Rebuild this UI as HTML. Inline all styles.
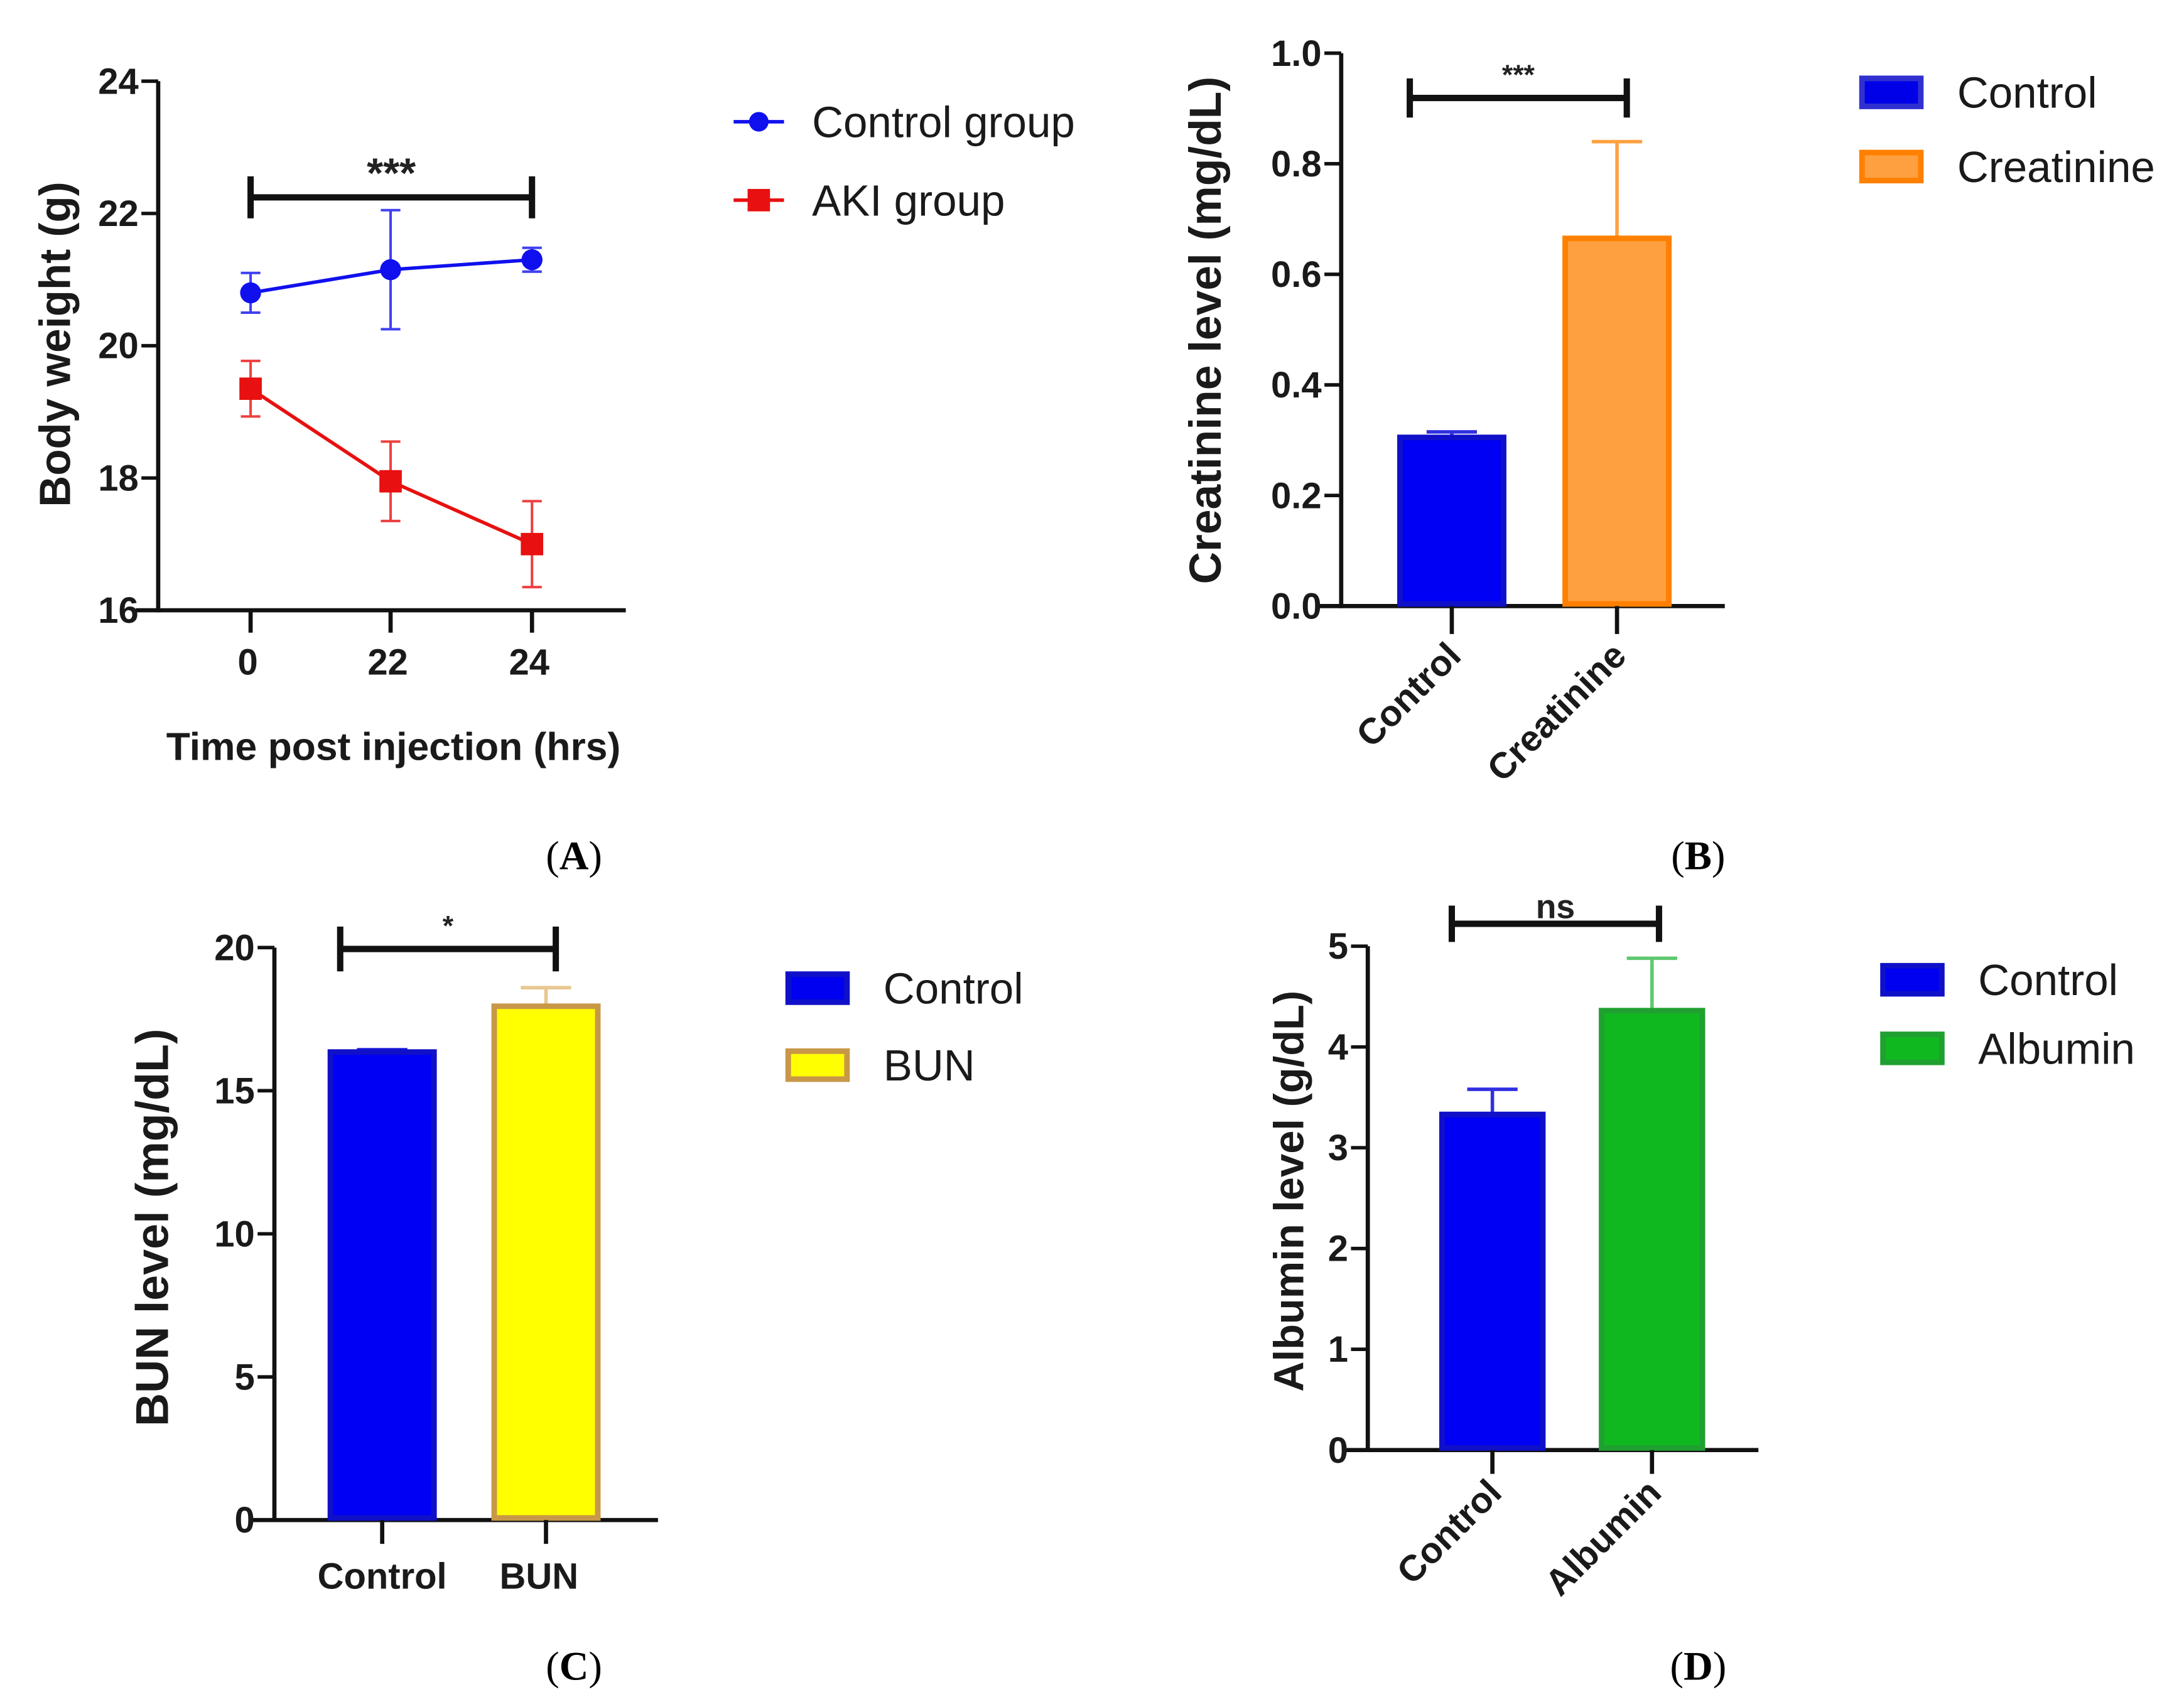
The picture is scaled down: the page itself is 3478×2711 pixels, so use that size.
<!DOCTYPE html>
<html><head><meta charset="utf-8"><style>
html,body{margin:0;padding:0;background:#fff}
svg{display:block}
text{font-family:"Liberation Sans",Arial,sans-serif}
.tk{font-size:26px;font-weight:bold;fill:#1a1a1a}
.at{font-weight:bold;fill:#1a1a1a}
.lg{font-size:31px;fill:#1a1a1a}
.pl{font-family:"Liberation Serif",serif;font-size:29px;fill:#000}
</style></head><body>
<svg id="fig" width="3478" height="2711" viewBox="0 0 1560 1216" preserveAspectRatio="none" xmlns="http://www.w3.org/2000/svg"></svg>
<script>
// Panel A data
const aTimes = ["0","22","24"];
const aCtrlMean = [20.8, 21.15, 21.3];
const aCtrlErr = [0.3, 0.9, 0.18];
const aAkiMean = [19.35, 17.95, 17.0];
const aAkiErr = [0.42, 0.6, 0.65];
const aYTicks = [16,18,20,22,24];
// Panel B data
const bCats = ["Control","Creatinine"];
const bVals = [0.305, 0.665];
const bErrs = [0.01, 0.175];
const bYTicks = [0.0,0.2,0.4,0.6,0.8,1.0];
// Panel C data
const cCats = ["Control","BUN"];
const cVals = [16.35, 17.95];
const cErrs = [0.08, 0.65];
const cYTicks = [0,5,10,15,20];
// Panel D data
const dCats = ["Control","Albumin"];
const dVals = [3.33, 4.36];
const dErrs = [0.25, 0.52];
const dYTicks = [0,1,2,3,4,5];

const svg = document.getElementById('fig');
const NS = 'http://www.w3.org/2000/svg';
function mk(tag, a, txt){const e=document.createElementNS(NS,tag);for(const k in a)e.setAttribute(k,a[k]);if(txt!==undefined)e.textContent=txt;svg.appendChild(e);return e;}
function lin(d0,d1,r0,r1){return v=>r0+(v-d0)*(r1-r0)/(d1-d0);}

function axes(x0,yTop,yBot,xEnd,yTicks,sy,fmt,prefix){
  let e=mk('line',{x1:x0,y1:yTop,x2:x0,y2:yBot+1.5,stroke:'#111','stroke-width':3});
  
  
  e=mk('line',{x1:x0-16,y1:yBot,x2:xEnd,y2:yBot,stroke:'#111','stroke-width':3});
  
  
  yTicks.forEach(t=>{
    const y=sy(t);
    let l=mk('line',{x1:x0-12,y1:y,x2:x0,y2:y,stroke:'#111','stroke-width':2.5});
    
    
    let tx=mk('text',{x:x0-14,y:y+9,'text-anchor':'end',class:'tk'},fmt(t));
    
    
  });
}
function ytitle(x,y,s,fs,prefix){
  const t=mk('text',{x:x,y:y,'text-anchor':'middle',class:'at','font-size':fs,transform:`rotate(-90 ${x} ${y})`},s);
  
  
}
function sig(x1,x2,y,cap,label,ly,fs,prefix){
  let p=mk('path',{d:`M${x1},${y-cap}V${y+cap}M${x1},${y}H${x2}M${x2},${y-cap}V${y+cap}`,stroke:'#111','stroke-width':4.5,fill:'none'});
  
  
  let t=mk('text',{x:(x1+x2)/2,y:ly,'text-anchor':'middle','font-size':fs,'font-weight':'bold',fill:'#222'},label);
  
  
}
function legendBox(x,y,fill,stroke,label,prefix){
  let r=mk('rect',{x:x,y:y,width:42,height:20,fill:fill,stroke:stroke,'stroke-width':4});
  
  
  let t=mk('text',{x:x+68,y:y+21,class:'lg'},label);
  
  
}
function bars(prefix,cats,vals,errs,xs,bw,sy,fills,strokes,errCols,yBot,tickLen){
  cats.forEach((c,i)=>{
    const x=xs[i], yv=sy(vals[i]), ye=sy(vals[i]+errs[i]);
    let el=mk('line',{x1:x,y1:yv,x2:x,y2:ye,stroke:errCols[i],'stroke-width':2.5});
    
    
    el=mk('line',{x1:x-18,y1:ye,x2:x+18,y2:ye,stroke:errCols[i],'stroke-width':2.5});
    
    
    let r=mk('rect',{x:x-bw/2+2,y:yv,width:bw-4,height:yBot-yv-1.5,fill:fills[i],stroke:strokes[i],'stroke-width':4});
    
    
    let t=mk('line',{x1:x,y1:yBot,x2:x,y2:yBot+tickLen,stroke:'#111','stroke-width':3});
    
    
  });
}

/* ---------- Panel A ---------- */
const ayA=lin(16,24,436,58);
const axA=[179,279,380];
axes(113,58,436,447,aYTicks,ayA,v=>String(v),'a');
aTimes.forEach((s,i)=>{
  let l=mk('line',{x1:axA[i],y1:436,x2:axA[i],y2:452,stroke:'#111','stroke-width':3});
  
  
  let t=mk('text',{x:axA[i]-2,y:482,'text-anchor':'middle',class:'tk'},s);
  
  
});
let tA=mk('text',{x:281,y:543,'text-anchor':'middle','font-size':28,'font-weight':'bold',fill:'#1a1a1a'},'Time post injection (hrs)');


ytitle(50,246,'Body weight (g)',31,'a');
function series(mean,err,col,shape,prefix){
  let pts=mean.map((v,i)=>axA[i]+','+ayA(v)).join(' ');
  let pl=mk('polyline',{points:pts,fill:'none',stroke:col,'stroke-width':2.5});
  
  
  mean.forEach((v,i)=>{
    const x=axA[i],y=ayA(v),y1=ayA(v+err[i]),y2=ayA(v-err[i]);
    let e=mk('path',{d:`M${x},${y1}V${y2}M${x-7},${y1}H${x+7}M${x-7},${y2}H${x+7}`,stroke:col,'stroke-width':1.8,fill:'none','stroke-opacity':0.8});
    
    
    let m = shape==='c' ? mk('circle',{cx:x,cy:y,r:7.5,fill:col}) : mk('rect',{x:x-8,y:y-8,width:16,height:16,fill:col});
    
    
  });
}
series(aCtrlMean,aCtrlErr,'#1010ee','c','a-control');
series(aAkiMean,aAkiErr,'#e81010','s','a-aki');
sig(179,380,141,15,'***',134,30,'a');
let lgA=mk('line',{x1:524,y1:87,x2:560,y2:87,stroke:'#1010ee','stroke-width':2.5});


let lgAc=mk('circle',{cx:542,cy:87,r:7,fill:'#1010ee'});


let lgAt=mk('text',{x:580,y:98,class:'lg'},'Control group');


let lgB=mk('line',{x1:524,y1:143,x2:560,y2:143,stroke:'#e81010','stroke-width':2.5});


let lgBr=mk('rect',{x:534,y:135,width:16,height:16,fill:'#e81010'});


let lgBt=mk('text',{x:580,y:154,class:'lg'},'AKI group');



/* ---------- Panel B ---------- */
const byB=lin(0,1,433,38);
axes(958,38,433,1232,bYTicks,byB,v=>v.toFixed(1),'b');
ytitle(872,236,'Creatinine level (mg/dL)',32,'b');
const bX=[1037,1155];
bars('b',bCats,bVals,bErrs,bX,78,byB,['#0000f5','#ffa040'],['#1010c8','#ff8000'],['#3030e0','#ffa040'],433,20);
bCats.forEach((c,i)=>{
  const x=bX[i]+8,y=470;
  let t=mk('text',{x:x,y:y,'text-anchor':'end',class:'tk','font-size':29,transform:`rotate(-45 ${x} ${y})`},c);
  
  
});
sig(1007,1162,70,14,'***',60,20,'b');
legendBox(1330,56,'#0000e8','#3030d0','Control','b');
legendBox(1330,109,'#ffa040','#ff8000','Creatinine','b');

/* ---------- Panel C ---------- */
const cyC=lin(0,20,1086,677);
axes(196,677,1086,470,cYTicks,cyC,v=>String(v),'c');
ytitle(120,877,'BUN level (mg/dL)',33,'c');
const cX=[273,390];
bars('c',cCats,cVals,cErrs,cX,78,cyC,['#0000f5','#ffff00'],['#1010c8','#c89848'],['#2020e0','#e8c890'],1086,17);
cCats.forEach((c,i)=>{
  let t=mk('text',{x:cX[i]-(i?5:0),y:1135,'text-anchor':'middle',class:'tk','font-size':29},c);
  
  
});
sig(243,397,678,16,'*',668,20,'c');
legendBox(563,696,'#0000f0','#1010c8','Control','c');
legendBox(563,751,'#ffff00','#c89848','BUN','c');

/* ---------- Panel D ---------- */
const dyD=lin(0,5,1036,676);
axes(977,676,1036,1256,dYTicks,dyD,v=>String(v),'d');
ytitle(931,851,'Albumin level (g/dL)',30,'d');
const dX=[1066,1180];
bars('d',dCats,dVals,dErrs,dX,76,dyD,['#0000f5','#10b820'],['#1010c8','#20a030'],['#3030e0','#60c870'],1036,17);
dCats.forEach((c,i)=>{
  const x=dX[i]+8,y=1068;
  let t=mk('text',{x:x,y:y,'text-anchor':'end',class:'tk','font-size':26,transform:`rotate(-45 ${x} ${y})`},c);
  
  
});
sig(1037,1185,660,13,'ns',656,24,'d');
legendBox(1345,690,'#0000f0','#1010c8','Control','d');
legendBox(1345,739,'#10b820','#20a030','Albumin','d');

/* ---------- Panel labels ---------- */
[['(A)',410,621],['(B)',1213,621],['(C)',410,1200],['(D)',1213,1200]].forEach(p=>{
  let t=mk('text',{x:p[1],y:p[2],'text-anchor':'middle',class:'pl'},'');
  
  
  t.innerHTML='(<tspan font-weight="bold">'+p[0][1]+'</tspan>)';
});
</script>
</body></html>
